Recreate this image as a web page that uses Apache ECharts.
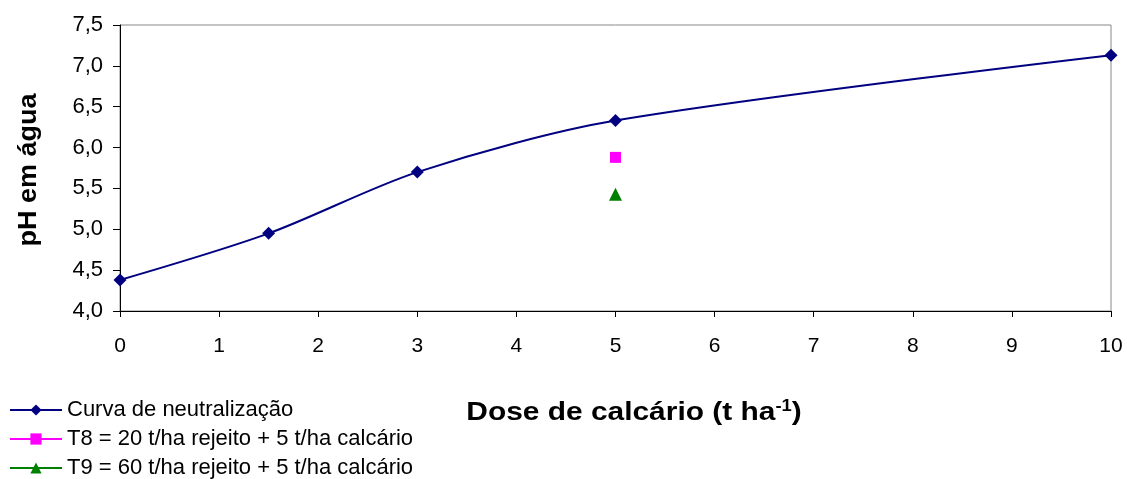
<!DOCTYPE html>
<html><head><meta charset="utf-8">
<script src="https://cdn.jsdelivr.net/npm/echarts@6/dist/echarts.min.js"></script>
<style>html,body{margin:0;padding:0;background:#fff}#c{width:1127px;height:479px}</style>
</head><body><div id="c"></div>
<script>
const doses = [0, 1.5, 3, 5, 10];
const phCurve = [4.38, 4.95, 5.70, 6.33, 7.13];
const t8Dose = [5];
const t8Ph = [5.88];
const t9Dose = [5];
const t9Ph = [5.43];
const seriesNames = ['Curva de neutralização', 'T8 = 20 t/ha rejeito + 5 t/ha calcário', 'T9 = 60 t/ha rejeito + 5 t/ha calcário'];
const xTitle = 'Dose de calcário (t ha';
const yTitle = 'pH em água';

const pair = (xs, ys) => xs.map((x, i) => [x, ys[i]]);
const font = 'Liberation Sans, Arial, sans-serif';
const chart = echarts.init(document.getElementById('c'), null, {renderer: 'canvas'});
chart.setOption({
  animation: false,
  backgroundColor: '#fff',
  grid: {left: 120, right: 16, top: 25, bottom: 168, show: true, borderColor: '#888', borderWidth: 1},
  xAxis: {
    type: 'value', min: 0, max: 10, interval: 1,
    axisLine: {show: true, onZero: false, lineStyle: {color: '#000', width: 1}},
    axisTick: {show: true, length: 6, lineStyle: {color: '#000'}},
    axisLabel: {fontFamily: font, fontSize: 21, color: '#000', margin: 25},
    splitLine: {show: false}
  },
  yAxis: {
    type: 'value', min: 4, max: 7.5, interval: 0.5,
    axisLine: {show: true, lineStyle: {color: '#000', width: 1}},
    axisTick: {show: true, length: 7, lineStyle: {color: '#000'}},
    axisLabel: {fontFamily: font, fontSize: 22, color: '#000', margin: 17,
      formatter: v => v.toFixed(1).replace('.', ',')},
    splitLine: {show: false}
  },
  graphic: [
    {type: 'text', x: 29, y: 170, rotation: Math.PI / 2, scaleX: 1.08,
     style: {text: yTitle, font: 'bold 25px ' + font, fill: '#000', align: 'center', verticalAlign: 'middle'}},
    {type: 'text', x: 634, y: 413, scaleX: 1.15,
     style: {text: '{m|' + xTitle + '}{s|-1}{m|)}', align: 'center', verticalAlign: 'middle',
       rich: {m: {font: 'bold 26px ' + font, fill: '#000', color: '#000', lineHeight: 28},
              s: {font: 'bold 16px ' + font, fill: '#000', color: '#000', verticalAlign: 'top', lineHeight: 16}}}}
  ],
  legend: {
    orient: 'vertical', left: 9, top: 399, padding: 0, itemWidth: 52, itemHeight: 14, itemGap: 7,
    textStyle: {fontFamily: font, fontSize: 22, color: '#000', lineHeight: 22},
    data: seriesNames
  },
  series: [
    {name: seriesNames[0], type: 'line', data: pair(doses, phCurve), smooth: 0.3,
     symbol: 'diamond', symbolSize: 13, itemStyle: {color: '#000080'}, lineStyle: {color: '#000080', width: 2}},
    {name: seriesNames[1], type: 'line', data: pair(t8Dose, t8Ph),
     symbol: 'rect', symbolSize: 11, itemStyle: {color: '#FF00FF'}, lineStyle: {color: '#FF00FF', width: 2}},
    {name: seriesNames[2], type: 'line', data: pair(t9Dose, t9Ph),
     symbol: 'triangle', symbolSize: 13, itemStyle: {color: '#008000'}, lineStyle: {color: '#008000', width: 2}}
  ]
});
</script></body></html>
